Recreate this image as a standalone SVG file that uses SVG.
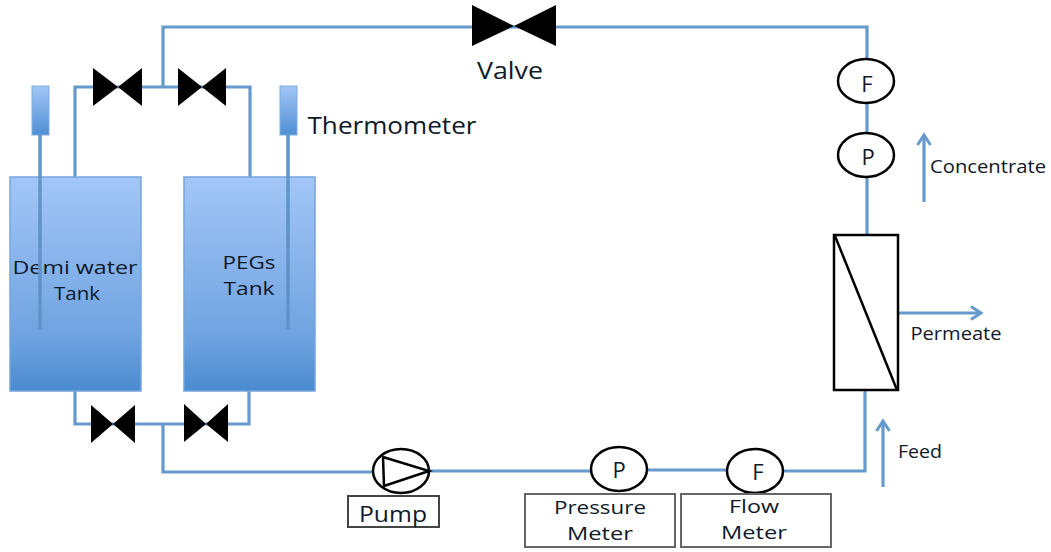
<svg xmlns="http://www.w3.org/2000/svg" width="1051" height="552" viewBox="0 0 1051 552">
<defs>
<linearGradient id="tank" x1="0" y1="0" x2="0" y2="1"><stop offset="0" stop-color="#a3c6f7"/><stop offset="0.75" stop-color="#6fa3e0"/><stop offset="1" stop-color="#4a8ad0"/></linearGradient>
<linearGradient id="therm" x1="0" y1="0" x2="0" y2="1"><stop offset="0" stop-color="#a3c6f7"/><stop offset="1" stop-color="#4f8fd4"/></linearGradient>
<marker id="arr" markerUnits="userSpaceOnUse" markerWidth="14" markerHeight="16" refX="11" refY="8" orient="auto"><path d="M1 1.500 L11 8 L1 14.500" fill="none" stroke="#6699cc" stroke-width="3"/></marker>
</defs>
<style>
.pipe{fill:none;stroke:#6699cc;stroke-width:3.2}
.stem{fill:none;stroke:#5f93c8;stroke-width:3.5}
.tank{fill:url(#tank);stroke:#76a5dc;stroke-width:1.5}
.therm{fill:url(#therm);stroke:#7fadde;stroke-width:1}
.v{fill:#000}
.ring{fill:#fff;stroke:#000;stroke-width:2.5}
.box{fill:#fff;stroke:#666;stroke-width:2}
text{font-family:"Open Sans","DejaVu Sans",sans-serif;fill:#10192a;text-anchor:middle}
.s{font-size:18px}.m{font-size:22px}.l{font-size:23px}.p{font-size:19px}
</style>
<g id="connectors">
<path class="pipe" d="M75 177V87H250V177"/>
<path class="pipe" d="M163 87V27H867V235"/>
<path class="pipe" d="M75 391V424H249V391"/>
<path class="pipe" d="M163 424V472H372"/>
<path class="pipe" d="M430 471H592"/>
<path class="pipe" d="M647 470H728"/>
<path class="pipe" d="M783 471H865V391"/>
<path class="pipe" d="M924 202V135" marker-end="url(#arr)"/>
<path class="pipe" d="M897 313H981" marker-end="url(#arr)"/>
<path class="pipe" d="M883 487V421" marker-end="url(#arr)"/>
</g>
<g id="tank-demi"><rect class="tank" x="10" y="177" width="131" height="214"/><text class="s" x="75" y="274" textLength="125" lengthAdjust="spacingAndGlyphs">Demi water</text><text class="s" x="77" y="300" textLength="46" lengthAdjust="spacingAndGlyphs">Tank</text></g>
<g id="tank-pegs"><rect class="tank" x="184" y="177" width="131" height="214"/><text class="s" x="249" y="269" textLength="53" lengthAdjust="spacingAndGlyphs">PEGs</text><text class="s" x="249" y="295" textLength="51" lengthAdjust="spacingAndGlyphs">Tank</text></g>
<g id="thermometer-1"><rect class="therm" x="32" y="86" width="17" height="49"/><path class="stem" d="M40 135V330"/></g>
<g id="thermometer-2"><rect class="therm" x="280" y="86" width="17" height="49"/><path class="stem" d="M288 135V330"/><text class="l" x="392" y="134" textLength="169" lengthAdjust="spacingAndGlyphs">Thermometer</text></g>
<g id="valve-main"><path class="v" d="M472 5L514 26L472 46ZM556 5L514 26L556 46Z"/><text class="l" x="510" y="79" textLength="66" lengthAdjust="spacingAndGlyphs">Valve</text></g>
<g id="valve-top-left"><path class="v" d="M93 68L118 87L93 106ZM142 68L118 87L142 106Z"/></g>
<g id="valve-top-right"><path class="v" d="M178 68L202 87L178 106ZM226 68L202 87L226 106Z"/></g>
<g id="valve-bottom-left"><path class="v" d="M91 405L113 424L91 443ZM135 405L113 424L135 443Z"/></g>
<g id="valve-bottom-right"><path class="v" d="M184 404L206 424L184 442ZM228 404L206 424L228 442Z"/></g>
<g id="pump"><ellipse class="ring" cx="401" cy="471" rx="28" ry="22"/><path d="M383 457L429 471L384 486Z" fill="none" stroke="#000" stroke-width="2.5"/><rect class="box" x="348" y="496" width="91" height="31" style="stroke:#444"/><text class="m" x="393" y="522" textLength="68" lengthAdjust="spacingAndGlyphs">Pump</text></g>
<g id="pressure-meter"><ellipse class="ring" cx="619" cy="469" rx="28" ry="22"/><text class="m" x="619" y="478">P</text><rect class="box" x="525" y="494" width="150" height="53"/><text class="p" x="600" y="514" textLength="92" lengthAdjust="spacingAndGlyphs">Pressure</text><text class="p" x="600" y="540" textLength="66" lengthAdjust="spacingAndGlyphs">Meter</text></g>
<g id="flow-meter"><ellipse class="ring" cx="755" cy="471" rx="28" ry="22"/><text class="m" x="758" y="480">F</text><rect class="box" x="681" y="494" width="150" height="53"/><text class="p" x="754" y="513" textLength="50" lengthAdjust="spacingAndGlyphs">Flow</text><text class="p" x="754" y="539" textLength="66" lengthAdjust="spacingAndGlyphs">Meter</text></g>
<g id="flow-gauge"><ellipse class="ring" cx="866" cy="81" rx="28" ry="22"/><text class="m" x="867" y="92">F</text></g>
<g id="pressure-gauge"><ellipse class="ring" cx="866" cy="155" rx="28" ry="22"/><text class="m" x="868" y="165">P</text></g>
<g id="membrane"><rect x="834" y="235" width="64" height="155" fill="#fff" stroke="#000" stroke-width="2.5"/><path d="M835 236L897 390" fill="none" stroke="#000" stroke-width="2.5"/></g>
<g id="labels"><text class="s" x="988" y="173" textLength="116" lengthAdjust="spacingAndGlyphs">Concentrate</text><text class="s" x="956" y="340" textLength="91" lengthAdjust="spacingAndGlyphs">Permeate</text><text class="s" x="920" y="458" textLength="44" lengthAdjust="spacingAndGlyphs">Feed</text></g>
</svg>
